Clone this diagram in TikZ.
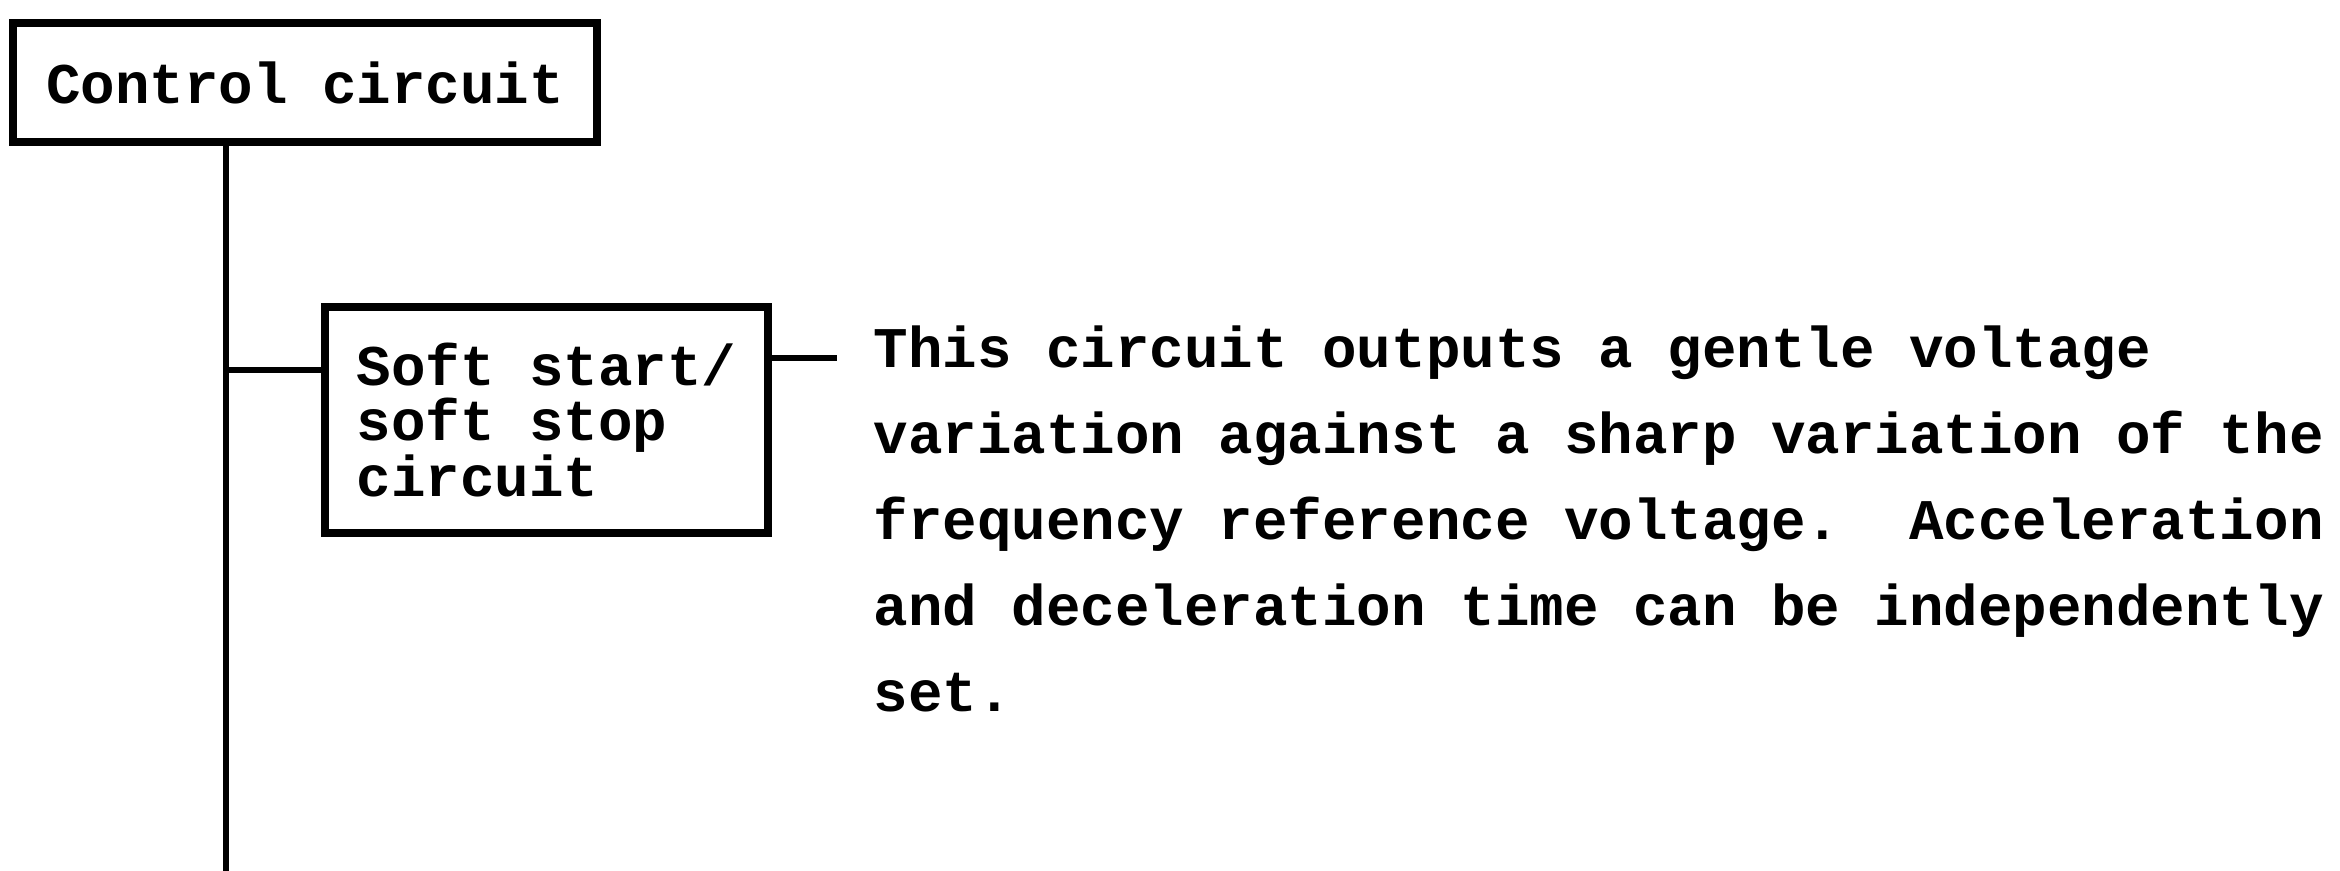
\documentclass[tikz,border=0pt]{standalone}
\usepackage{fontspec}
\newfontfamily\tw{Liberation Mono}
\begin{document}
\begin{tikzpicture}[x=0.01cm,y=-0.01cm,
  boxnode/.style={draw=black, line width=2.2pt, inner sep=0pt,
    font=\tw\bfseries\fontsize{16.36}{15.9}\selectfont},
  conn/.style={draw=black, line width=1.7pt},
  desc/.style={inner sep=0pt, anchor=base west,
    font=\tw\bfseries\fontsize{16.36}{24.4}\selectfont}]
\useasboundingbox (0,0) rectangle (2340,871);
\fill[white] (0,0) rectangle (2340,871);

\node[boxnode, minimum width=5.84cm, minimum height=1.19cm] (ctrl) at (305,82.5) {Control circuit};
\node[boxnode, minimum width=4.43cm, minimum height=2.26cm, align=left] (soft) at (546.5,420)
  {Soft start/\\soft stop\\circuit};

\coordinate (tb) at (226,871);
\coordinate (br) at (226,370);
\coordinate (se) at (837,358);

\draw[conn] (ctrl.south -| tb) -- (tb);
\draw[conn] (br) -- (br -| soft.west);
\draw[conn] (soft.east |- se) -- (se);

\node[desc] (txt) at (873,368) {\parbox[t]{15cm}{\frenchspacing\raggedright
This circuit outputs a gentle voltage\\
variation against a sharp variation of the\\
frequency reference voltage.\ \ Acceleration\\
and deceleration time can be independently\\
set.}};
\end{tikzpicture}
\end{document}
